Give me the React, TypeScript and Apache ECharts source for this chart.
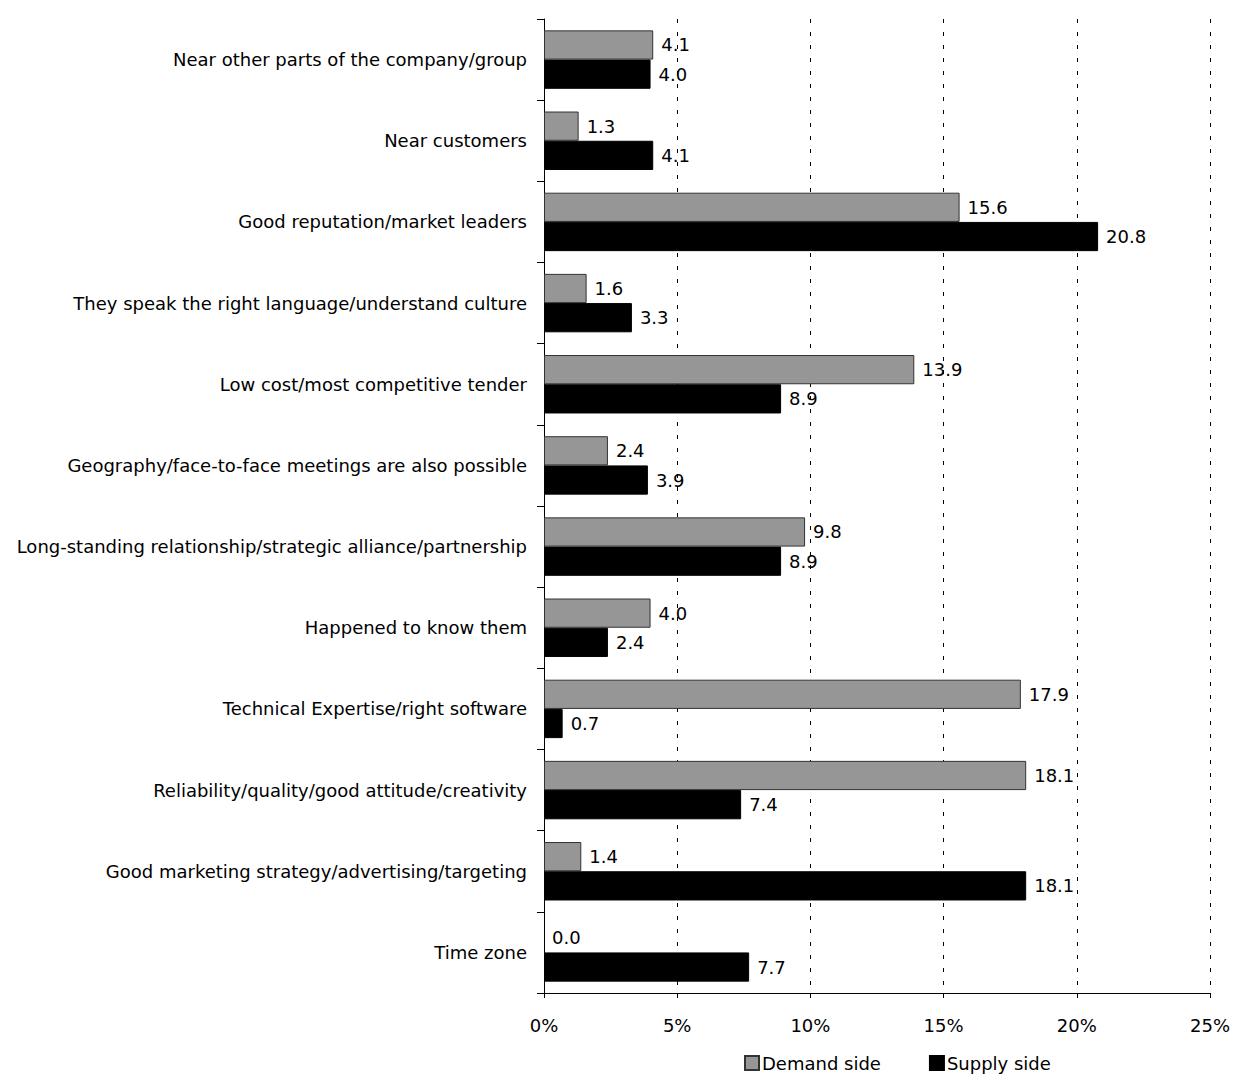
import React, { useEffect, useRef } from "react";
import * as echarts from "echarts";

const categories = [
  "Near other parts of the company/group",
  "Near customers",
  "Good reputation/market leaders",
  "They speak the right language/understand culture",
  "Low cost/most competitive tender",
  "Geography/face-to-face meetings are also possible",
  "Long-standing relationship/strategic alliance/partnership",
  "Happened to know them",
  "Technical Expertise/right software",
  "Reliability/quality/good attitude/creativity",
  "Good marketing strategy/advertising/targeting",
  "Time zone",
];
const demandSide = [4.1, 1.3, 15.6, 1.6, 13.9, 2.4, 9.8, 4.0, 17.9, 18.1, 1.4, 0.0];
const supplySide = [4.0, 4.1, 20.8, 3.3, 8.9, 3.9, 8.9, 2.4, 0.7, 7.4, 18.1, 7.7];
const seriesNames = ["Demand side", "Supply side"];

const FONT = "DejaVu Sans";
const FS = 18;

export default function App() {
  const ref = useRef<HTMLDivElement>(null);
  useEffect(() => {
    document.body.style.margin = "0";
    const chart = echarts.init(ref.current!, null, { renderer: "svg" });
    const labelCfg = {
      show: true,
      position: "right" as const,
      distance: 8,
      color: "#000",
      fontSize: FS,
      fontFamily: FONT,
      formatter: (p: any) => Number(p.value).toFixed(1),
    };
    const toData = (arr: number[]) =>
      arr.map((v) => (v === 0 ? { value: v, itemStyle: { borderWidth: 0 } } : v));
    chart.setOption({
      animation: false,
      backgroundColor: "#fff",
      textStyle: { fontFamily: FONT },
      grid: { left: 544, right: 24, top: 19, bottom: 82, containLabel: false },
      legend: {
        data: seriesNames,
        left: 744,
        top: 1054,
        padding: 0,
        itemWidth: 14,
        itemHeight: 14,
        itemGap: 48,
        textStyle: { fontSize: FS, color: "#000", fontFamily: FONT, padding: [0, 0, 0, -2] },
        icon: "rect",
      },
      xAxis: {
        type: "value",
        min: 0,
        max: 25,
        interval: 5,
        axisLine: { show: true, lineStyle: { color: "#000", width: 1 } },
        axisTick: { show: true, length: 5, lineStyle: { color: "#000" } },
        axisLabel: {
          formatter: "{value}%",
          color: "#000",
          fontSize: FS,
          fontFamily: FONT,
          margin: 23,
        },
        splitLine: {
          show: true,
          lineStyle: { color: "#000", type: [4, 9], width: 1 },
        },
      },
      yAxis: {
        type: "category",
        data: categories,
        inverse: true,
        axisLine: { show: true, lineStyle: { color: "#000", width: 1 } },
        axisTick: { show: true, length: 7, inside: false, lineStyle: { color: "#000" } },
        axisLabel: {
          color: "#000",
          fontSize: FS,
          fontFamily: FONT,
          margin: 17,
        },
        splitLine: { show: false },
      },
      series: [
        {
          name: seriesNames[0],
          type: "bar",
          data: toData(demandSide),
          barGap: "0%",
          barCategoryGap: "28%",
          itemStyle: { color: "#969696", borderColor: "#333", borderWidth: 1 },
          label: labelCfg,
        },
        {
          name: seriesNames[1],
          type: "bar",
          data: toData(supplySide),
          barGap: "0%",
          barCategoryGap: "28%",
          itemStyle: { color: "#000", borderColor: "#000", borderWidth: 1 },
          label: labelCfg,
        },
      ],
    });
    return () => chart.dispose();
  }, []);
  return <div ref={ref} style={{ width: 1234, height: 1075 }} />;
}
